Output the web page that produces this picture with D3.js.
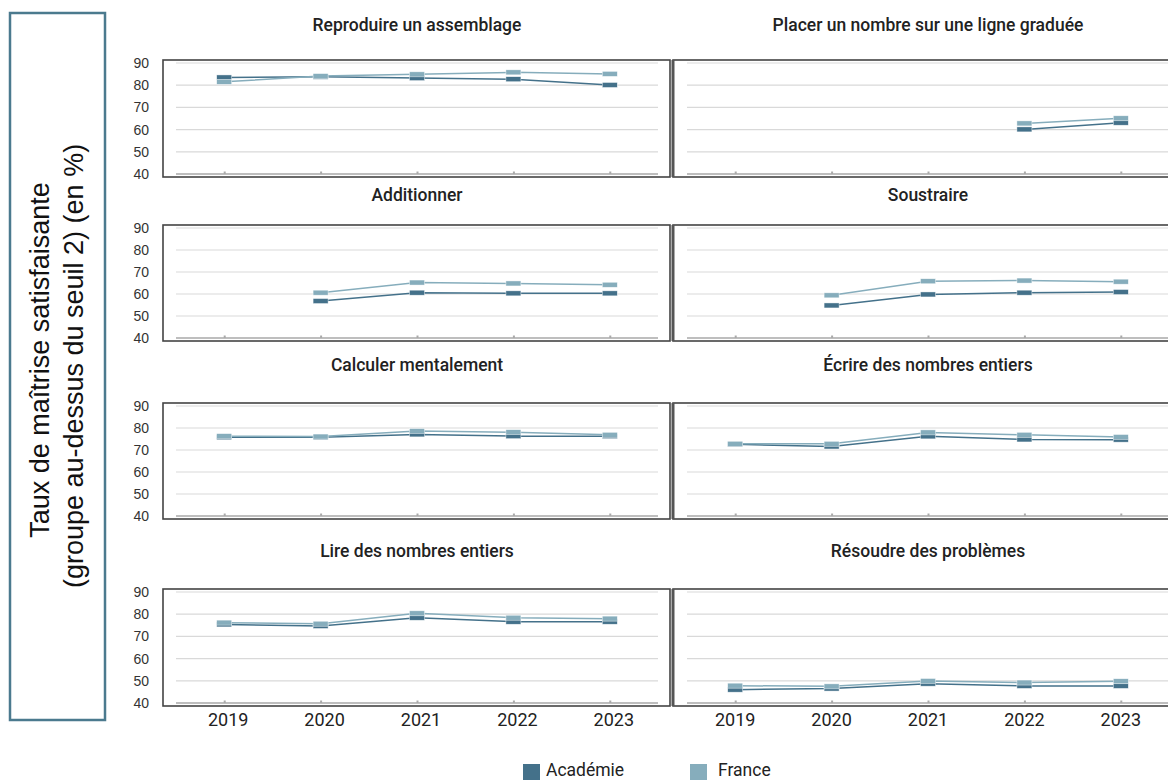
<!DOCTYPE html>
<html><head><meta charset="utf-8">
<script src="https://cdn.jsdelivr.net/npm/d3@7"></script>
<style>
html,body{margin:0;padding:0;background:#fff;}
svg{display:block;}
</style>
</head><body>
<svg id="chart" width="1168" height="781"></svg>
<script>
// ---------- DATA ----------
const years = ["2019", "2020", "2021", "2022", "2023"];
const yTicks = [40, 50, 60, 70, 80, 90];
const seriesNames = ["Académie", "France"];
const axisTitleLines = ["Taux de maîtrise satisfaisante", "(groupe au-dessus du seuil 2) (en %)"];
const panelTitles = [
  "Reproduire un assemblage", "Placer un nombre sur une ligne graduée",
  "Additionner", "Soustraire",
  "Calculer mentalement", "Écrire des nombres entiers",
  "Lire des nombres entiers", "Résoudre des problèmes"
];
const acadReproduire = [83.5, 83.8, 83.2, 82.7, 80.1];
const franceReproduire = [81.5, 84.1, 84.9, 85.8, 85.1];
const acadPlacer = [null, null, null, 60.1, 63.1];
const francePlacer = [null, null, null, 62.8, 65.1];
const acadAdditionner = [null, 56.8, 60.6, 60.3, 60.3];
const franceAdditionner = [null, 60.6, 65.2, 64.8, 64.2];
const acadSoustraire = [null, 54.8, 59.8, 60.6, 60.9];
const franceSoustraire = [null, 59.4, 65.8, 66.1, 65.6];
const acadCalculer = [75.8, 75.8, 77.1, 76.3, 76.3];
const franceCalculer = [76.3, 76.1, 78.6, 78.1, 76.9];
const acadEcrire = [72.6, 71.6, 76.2, 74.8, 74.7];
const franceEcrire = [72.8, 72.8, 78.0, 76.9, 75.9];
const acadLire = [75.4, 74.7, 78.4, 76.6, 76.6];
const franceLire = [76.2, 75.7, 80.4, 78.4, 78.0];
const acadResoudre = [46.0, 46.5, 48.7, 47.7, 47.7];
const franceResoudre = [47.8, 47.5, 49.9, 49.2, 49.8];

const panelAcad = [acadReproduire, acadPlacer, acadAdditionner, acadSoustraire, acadCalculer, acadEcrire, acadLire, acadResoudre];
const panelFrance = [franceReproduire, francePlacer, franceAdditionner, franceSoustraire, franceCalculer, franceEcrire, franceLire, franceResoudre];

// ---------- STYLE / LAYOUT ----------
const colAcad = "#44718a";
const colFrance = "#86adbc";
const colXRange = [[176, 658], [687, 1169]];
const colFrame = [[163, 670], [673, 1182]];
const rowY = [[63, 174], [228, 338], [406, 516], [592, 703]];
const titleY = [25, 195, 365, 551];

const svg = d3.select("#chart");

// left boxed axis title
svg.append("rect").attr("x", 10).attr("y", 13).attr("width", 95).attr("height", 707)
  .attr("fill", "none").attr("stroke", "#4b7a8e").attr("stroke-width", 2.5);
const axisTitlePos = [[40, 360], [74, 366]];
axisTitleLines.forEach((t, k) => {
  svg.append("text")
    .attr("transform", `translate(${axisTitlePos[k][0]},${axisTitlePos[k][1]}) rotate(-90)`)
    .attr("text-anchor", "middle")
    .attr("dy", "0.35em")
    .attr("font-family", "'Liberation Sans', Arial, sans-serif")
    .attr("font-size", 27).attr("fill", "#111")
    .text(t);
});

panelTitles.forEach((title, i) => {
  const col = i % 2, row = Math.floor(i / 2);
  const x = d3.scalePoint().domain(years).range(colXRange[col]).padding(0.5);
  const y = d3.scaleLinear().domain([40, 90]).range([rowY[row][1], rowY[row][0]]);
  const g = svg.append("g");

  // title
  g.append("text")
    .attr("x", (colXRange[col][0] + colXRange[col][1]) / 2)
    .attr("y", titleY[row])
    .attr("dy", "0.35em")
    .attr("text-anchor", "middle")
    .attr("font-family", "Roboto, 'Liberation Sans', sans-serif")
    .attr("font-weight", 500)
    .attr("font-size", 17.5)
    .attr("fill", "#222")
    .text(title);

  // frame
  const fx0 = colFrame[col][0], fx1 = colFrame[col][1];
  const fy0 = y(90) - 3, fy1 = y(40) + 3;
  g.append("rect").attr("x", fx0).attr("y", fy0).attr("width", fx1 - fx0).attr("height", fy1 - fy0)
    .attr("fill", "none").attr("stroke", "#444").attr("stroke-width", 1.6);
  if (col === 1) {
    g.append("line").attr("x1", fx0).attr("x2", fx0).attr("y1", fy0).attr("y2", fy1)
      .attr("stroke", "#555").attr("stroke-width", 3);
  }

  // gridlines
  g.append("g").selectAll("line").data(yTicks).join("line")
    .attr("x1", colXRange[col][0]).attr("x2", colXRange[col][1])
    .attr("y1", d => y(d)).attr("y2", d => y(d))
    .attr("stroke", d => d === 40 ? "#a8a8a8" : "#d9d9d9")
    .attr("stroke-width", d => d === 40 ? 1.4 : 1.2);

  // small x tick marks
  const xAxis = g.append("g").attr("transform", `translate(0,${y(40)})`)
    .call(d3.axisBottom(x).tickSizeInner(-2.5).tickSizeOuter(0).tickFormat(""));
  xAxis.select(".domain").remove();
  xAxis.selectAll(".tick line").attr("stroke", "#aaa").attr("stroke-width", 2);

  // y axis labels (left column)
  if (col === 0) {
    const yAxis = g.append("g").attr("transform", "translate(149,0)")
      .call(d3.axisLeft(y).tickValues(yTicks).tickSize(0).tickPadding(0));
    yAxis.select(".domain").remove();
    yAxis.selectAll("text")
      .attr("font-family", "'Liberation Sans', Arial, sans-serif")
      .attr("font-size", 14).attr("fill", "#333");
  }

  // bottom row year labels
  if (row === 3) {
    g.append("g").selectAll("text").data(years).join("text")
      .attr("x", d => x(d) + (col === 0 ? 4 : 0))
      .attr("y", y(40) + 17)
      .attr("dy", "0.35em")
      .attr("text-anchor", "middle")
      .attr("font-family", "Roboto, 'Liberation Sans', sans-serif")
      .attr("font-size", 18).attr("fill", "#222")
      .text(d => d);
  }

  // series
  const drawSeries = (vals, color) => {
    const pts = years.map((yr, k) => ({ yr, v: vals[k] }));
    const line = d3.line().defined(d => d.v != null).x(d => x(d.yr)).y(d => y(d.v));
    g.append("path").datum(pts).attr("d", line)
      .attr("fill", "none").attr("stroke", color).attr("stroke-width", 1.5);
    g.append("g").selectAll("rect").data(pts.filter(d => d.v != null)).join("rect")
      .attr("x", d => x(d.yr) - 7.5).attr("y", d => y(d.v) - 2.5)
      .attr("width", 15).attr("height", 5)
      .attr("fill", color).attr("stroke", "#fff").attr("stroke-width", 0.6).attr("stroke-opacity", 0.7);
  };
  drawSeries(panelAcad[i], colAcad);
  drawSeries(panelFrance[i], colFrance);
});

// legend
const legend = svg.append("g");
const legendX = [523, 690];
const legendTextX = [546, 718];
const legendColors = [colAcad, colFrance];
seriesNames.forEach((name, k) => {
  legend.append("rect").attr("x", legendX[k]).attr("y", 764).attr("width", 17).attr("height", 16)
    .attr("fill", legendColors[k]);
  legend.append("text").attr("x", legendTextX[k]).attr("y", 770).attr("dy", "0.35em")
    .attr("font-family", "Roboto, 'Liberation Sans', sans-serif")
    .attr("font-size", 17.5).attr("fill", "#222").text(name);
});
</script>
</body></html>
